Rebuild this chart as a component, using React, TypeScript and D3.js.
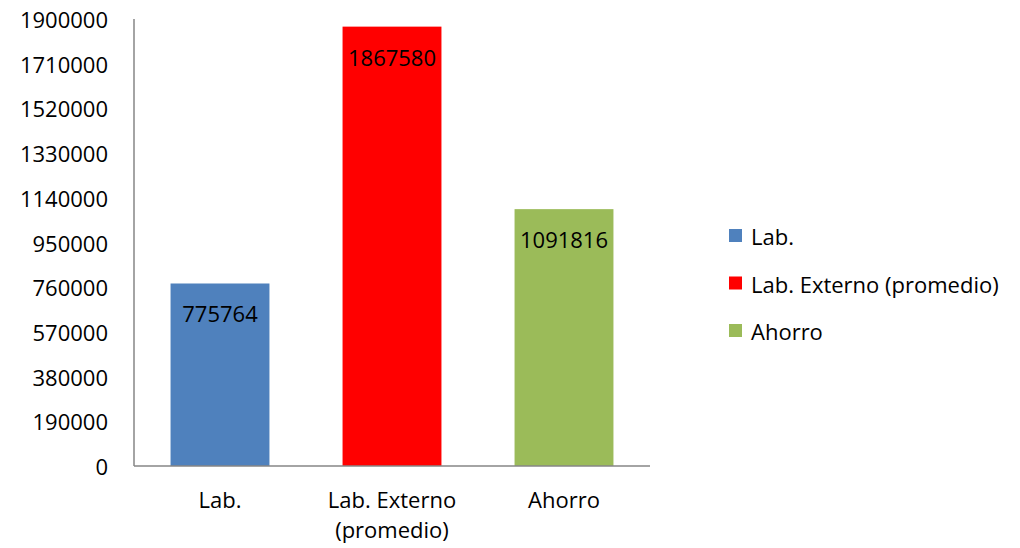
import React from "react";
import * as d3 from "d3";

const categories = ["Lab.", "Lab. Externo (promedio)", "Ahorro"];
const categoryLines = [["Lab."], ["Lab. Externo", "(promedio)"], ["Ahorro"]];
const values = [775764, 1867580, 1091816];
const colors = ["#4F81BD", "#FF0000", "#9BBB59"];
const yTicks = [0, 190000, 380000, 570000, 760000, 950000, 1140000, 1330000, 1520000, 1710000, 1900000];

const W = 1020;
const H = 548;
const plot = { left: 134, right: 650, top: 19, bottom: 466 };
const font = "Open Sans, Calibri, sans-serif";
const fs = 22;

export default function App() {
  const x = d3
    .scaleBand<string>()
    .domain(categories)
    .range([plot.left, plot.right])
    .paddingInner(0.425)
    .paddingOuter(0.2125);
  const y = d3.scaleLinear().domain([0, 1900000]).range([plot.bottom, plot.top]);

  return (
    <svg
      width={W}
      height={H}
      style={{ position: "absolute", left: 0, top: 0, background: "#fff" }}
      fontFamily={font}
    >
      <rect x={0} y={0} width={W} height={H} fill="#fff" />
      {/* y-axis labels */}
      {yTicks.map((t) => (
        <text
          key={t}
          x={108}
          y={y(t)}
          textAnchor="end"
          dominantBaseline="central"
          fontSize={fs}
          fill="#000"
        >
          {t}
        </text>
      ))}
      {/* bars */}
      {categories.map((c, i) => (
        <rect
          key={c}
          x={x(c)}
          y={y(values[i])}
          width={x.bandwidth()}
          height={y(0) - y(values[i])}
          fill={colors[i]}
        />
      ))}
      {/* axes */}
      <line x1={plot.left} x2={plot.left} y1={plot.top} y2={plot.bottom} stroke="#868686" strokeWidth={1.5} />
      <line x1={plot.left} x2={plot.right} y1={plot.bottom} y2={plot.bottom} stroke="#868686" strokeWidth={1.5} />
      {/* value labels */}
      {categories.map((c, i) => (
        <text
          key={c}
          x={(x(c) as number) + x.bandwidth() / 2}
          y={y(values[i]) + 30}
          textAnchor="middle"
          dominantBaseline="central"
          fontSize={fs}
          fill="#000"
        >
          {values[i]}
        </text>
      ))}
      {/* category labels */}
      {categories.map((c, i) => (
        <text
          key={c}
          x={(x(c) as number) + x.bandwidth() / 2}
          textAnchor="middle"
          fontSize={fs}
          fill="#000"
        >
          {categoryLines[i].map((l, j) => (
            <tspan key={j} x={(x(c) as number) + x.bandwidth() / 2} y={508 + j * 30}>
              {l}
            </tspan>
          ))}
        </text>
      ))}
      {/* legend */}
      {categories.map((c, i) => (
        <g key={c} transform={`translate(729, ${236 + i * 47.5})`}>
          <rect x={0} y={-7} width={13} height={13} fill={colors[i]} />
          <text x={22} y={0} dominantBaseline="central" fontSize={fs} fill="#000">
            {c}
          </text>
        </g>
      ))}
    </svg>
  );
}
